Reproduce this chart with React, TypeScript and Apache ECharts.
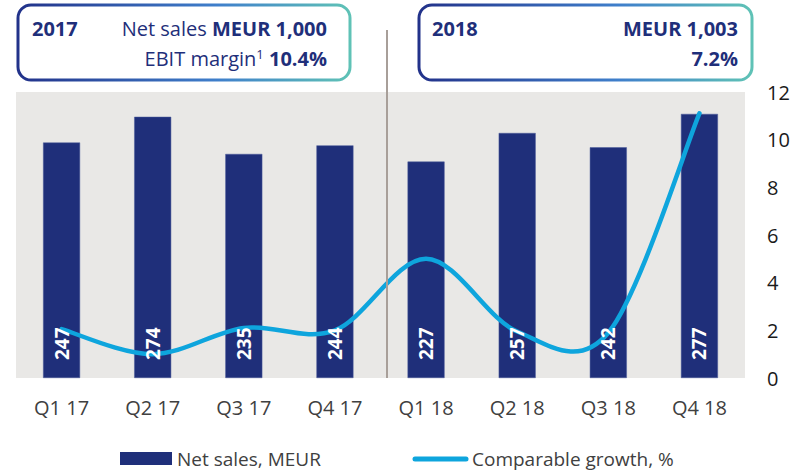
import React, { useEffect, useRef } from "react";
import * as echarts from "echarts";

const categories = ["Q1 17", "Q2 17", "Q3 17", "Q4 17", "Q1 18", "Q2 18", "Q3 18", "Q4 18"];
const netSales = [247, 274, 235, 244, 227, 257, 242, 277];
const growth = [2.05, 1.0, 2.1, 2.0, 5.0, 1.95, 1.9, 11.1];
const growthTicks = [0, 12, 2];

const NAVY = "#1f2f7a";
const CYAN = "#0ea5dd";
const FONT = "'Open Sans', 'Liberation Sans', sans-serif";

export default function App() {
  const ref = useRef<HTMLDivElement>(null);
  useEffect(() => {
    if (!ref.current) return;
    const chart = echarts.init(ref.current, undefined, { renderer: "svg" });
    const grad = () =>
      new echarts.graphic.LinearGradient(0, 0, 1, 0, [
        { offset: 0, color: "#22328a" },
        { offset: 0.6, color: "#3f7fcb" },
        { offset: 1, color: "#5fc2b6" },
      ]);
    const n = growth.length;
    chart.setOption({
      animation: false,
      textStyle: { fontFamily: FONT },
      grid: {
        left: 16,
        right: 61,
        top: 92,
        bottom: 94,
        show: true,
        backgroundColor: "#e9e8e6",
        borderWidth: 0,
      },
      xAxis: {
        type: "category",
        data: categories,
        axisLine: { show: false },
        axisTick: { show: false },
        axisLabel: { color: "#404040", fontSize: 20, margin: 19, fontFamily: FONT },
      },
      yAxis: [
        {
          type: "value",
          position: "right",
          min: growthTicks[0],
          max: growthTicks[1],
          interval: growthTicks[2],
          axisLine: { show: false },
          axisTick: { show: false },
          splitLine: { show: false },
          axisLabel: { color: "#1a1a1a", fontSize: 20, margin: 22, fontFamily: FONT },
        },
        {
          type: "value",
          min: 0,
          max: 300,
          show: false,
          splitLine: { show: false },
        },
      ],
      series: [
        {
          name: "Net sales, MEUR",
          type: "bar",
          yAxisIndex: 1,
          data: netSales,
          barWidth: 37,
          barGap: "-100%",
          itemStyle: { color: NAVY, borderColor: "#4a5a9a", borderWidth: 0.5 },
          z: 2,
        },
        {
          name: "Comparable growth, %",
          type: "custom",
          xAxisIndex: 0,
          yAxisIndex: 0,
          data: growth.map((v, i) => [i, v]),
          encode: { x: 0, y: 1 },
          z: 3,
          renderItem: (params: any, api: any) => {
            if (params.dataIndex !== 0) return null;
            const pt = (k: number) => {
              const c = Math.max(0, Math.min(n - 1, k));
              return api.coord([c, growth[c]]);
            };
            const pts = growth.map((_, i) => pt(i));
            let d = `M${pts[0][0]},${pts[0][1]}`;
            for (let i = 0; i < n - 1; i++) {
              const p0 = pt(i - 1), p1 = pt(i), p2 = pt(i + 1), p3 = pt(i + 2);
              const c1x = p1[0] + (p2[0] - p0[0]) / 6;
              const c1y = p1[1] + (p2[1] - p0[1]) / 6;
              const c2x = p2[0] - (p3[0] - p1[0]) / 6;
              const c2y = p2[1] - (p3[1] - p1[1]) / 6;
              d += ` C${c1x},${c1y} ${c2x},${c2y} ${p2[0]},${p2[1]}`;
            }
            return {
              type: "path",
              shape: { pathData: d },
              style: { stroke: CYAN, lineWidth: 4.5, fill: "none", lineCap: "round", lineJoin: "round" },
            };
          },
        },
        {
          name: "labels",
          type: "bar",
          yAxisIndex: 1,
          data: netSales,
          barWidth: 37,
          barGap: "-100%",
          silent: true,
          itemStyle: { color: "rgba(0,0,0,0)" },
          label: {
            show: true,
            position: "insideBottom",
            rotate: 90,
            align: "left",
            verticalAlign: "middle",
            distance: 18,
            color: "#ffffff",
            fontWeight: "bold",
            fontSize: 19,
            fontFamily: FONT,
          },
          z: 5,
        },
      ],
      graphic: [
        {
          type: "line",
          shape: { x1: 387, y1: 30, x2: 387, y2: 378 },
          style: { stroke: "#a89f99", lineWidth: 2 },
          z: 10,
        },
        {
          type: "rect",
          shape: { x: 18, y: 5, width: 332, height: 75, r: 13 },
          style: { fill: "#ffffff", stroke: grad(), lineWidth: 3 },
        },
        {
          type: "text",
          x: 32,
          y: 28,
          style: { text: "2017", fill: NAVY, font: `bold 20px ${FONT}`, textVerticalAlign: "middle" },
        },
        {
          type: "text",
          x: 327,
          y: 28,
          style: {
            text: "Net sales {b|MEUR 1,000}",
            fill: NAVY,
            font: `20px ${FONT}`,
            textAlign: "right",
            textVerticalAlign: "middle",
            rich: { b: { fontWeight: "bold", fontSize: 20, fill: NAVY, fontFamily: FONT } },
          },
        },
        {
          type: "text",
          x: 327,
          y: 58,
          style: {
            text: "EBIT margin{s|1} {b|10.4%}",
            fill: NAVY,
            font: `20px ${FONT}`,
            textAlign: "right",
            textVerticalAlign: "middle",
            rich: {
              b: { fontWeight: "bold", fontSize: 20, fill: NAVY, fontFamily: FONT },
              s: { fontSize: 13, fill: NAVY, fontFamily: FONT, verticalAlign: "top", padding: [0, 0, 8, 0] },
            },
          },
        },
        {
          type: "rect",
          shape: { x: 419, y: 5, width: 333, height: 75, r: 13 },
          style: { fill: "#ffffff", stroke: grad(), lineWidth: 3 },
        },
        {
          type: "text",
          x: 432,
          y: 28,
          style: { text: "2018", fill: NAVY, font: `bold 20px ${FONT}`, textVerticalAlign: "middle" },
        },
        {
          type: "text",
          x: 738,
          y: 28,
          style: { text: "MEUR 1,003", fill: NAVY, font: `bold 20px ${FONT}`, textAlign: "right", textVerticalAlign: "middle" },
        },
        {
          type: "text",
          x: 738,
          y: 58,
          style: { text: "7.2%", fill: NAVY, font: `bold 20px ${FONT}`, textAlign: "right", textVerticalAlign: "middle" },
        },
        {
          type: "rect",
          shape: { x: 120, y: 452, width: 52, height: 13 },
          style: { fill: NAVY },
        },
        {
          type: "text",
          x: 177,
          y: 459,
          style: { text: "Net sales, MEUR", fill: "#404040", font: `19px ${FONT}`, textVerticalAlign: "middle" },
        },
        {
          type: "line",
          shape: { x1: 415, y1: 459, x2: 466, y2: 459 },
          style: { stroke: CYAN, lineWidth: 5, lineCap: "round" },
        },
        {
          type: "text",
          x: 472,
          y: 459,
          style: { text: "Comparable growth, %", fill: "#404040", font: `19px ${FONT}`, textVerticalAlign: "middle" },
        },
      ],
    });
    return () => chart.dispose();
  }, []);
  return <div ref={ref} style={{ width: 806, height: 472, position: "absolute", left: 0, top: 0 }} />;
}
